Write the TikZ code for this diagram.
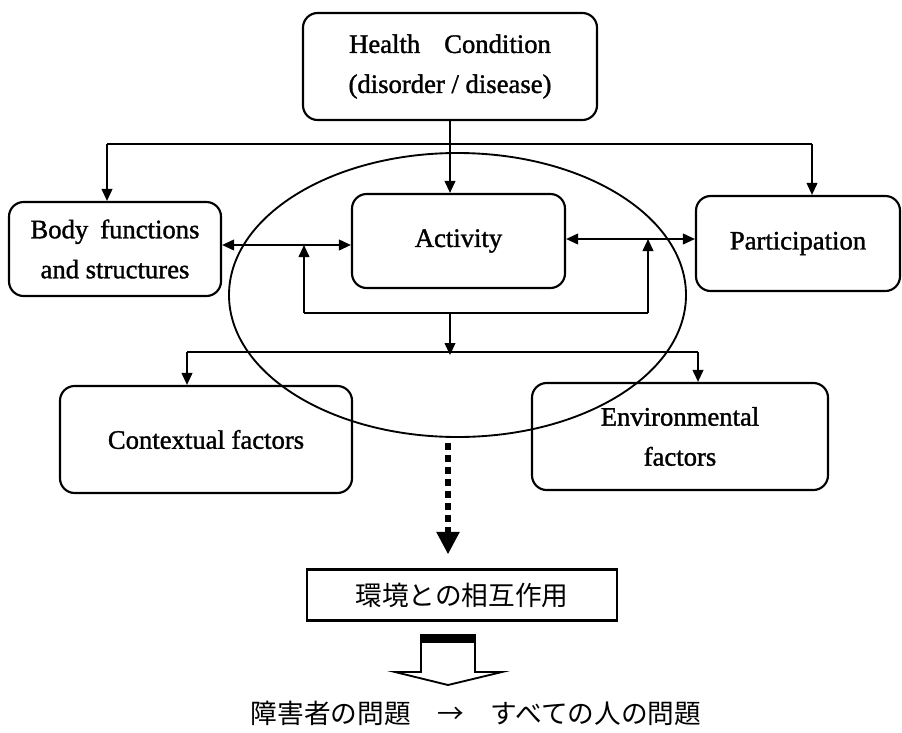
\documentclass[tikz,border=0pt]{standalone}
\usepackage{fontspec}
\setmainfont{Liberation Serif}[FakeBold=1.3]
\newfontfamily\jp{Noto Sans CJK JP}
\usetikzlibrary{arrows.meta}
\begin{document}
\begin{tikzpicture}[x=0.75pt,y=-0.75pt,
  box/.style={draw, line width=1.6pt, rounded corners=11pt, align=center, inner sep=0pt,
    font=\fontsize{20}{30}\selectfont},
  conn/.style={line width=1.4pt},
  arr/.style={conn, -{Triangle[length=9pt,width=8pt]}},
  darr/.style={conn, {Triangle[length=9pt,width=8pt]}-{Triangle[length=9pt,width=8pt]}},
  dotarr/.style={line width=5pt, dash pattern=on 5.25pt off 3.75pt, -{Triangle[length=17pt,width=16.5pt]}},
  jpbox/.style={draw, line width=1.6pt, inner sep=0pt, font=\jp\fontsize{20}{24}\selectfont},
  jptext/.style={inner sep=0pt, font=\jp\fontsize{20}{24}\selectfont}
]
\useasboundingbox (0,0) rectangle (902,732);
\fill[white] (0,0) rectangle (902,732);

% ellipse
\draw[line width=1.4pt] (457.5,295) ellipse [x radius=228.5, y radius=142];

% nodes
\node[box, minimum width=220.5pt, minimum height=80.25pt] (health) at (450,66.5)
  {Health\hspace{0.9em}Condition\\(disorder / disease)};
\node[box, minimum width=159pt, minimum height=70.5pt] (body) at (115,249)
  {Body\hspace{0.45em}functions\\and structures};
\node[box, minimum width=159.75pt, minimum height=70.5pt] (act) at (458.5,241) {Activity};
\node[box, minimum width=153pt, minimum height=71.25pt] (part) at (798,243.5) {Participation};
\node[box, minimum width=219pt, minimum height=80.25pt] (ctx) at (206,439.5) {Contextual factors};
\node[box, minimum width=222pt, minimum height=80.25pt] (env) at (680,436.5) {Environmental\\factors};
\node[jpbox, minimum width=232.5pt, minimum height=38.25pt] (inter) at (462,595) {環境との相互作用};
\node[jptext] (bottom) at (476,713) {障害者の問題　→　すべての人の問題};

% coordinates
\coordinate (tl) at (107,144);
\coordinate (tr) at (812,144);
\coordinate (y1) at (0,245);
\coordinate (y2) at (0,239);
\coordinate (ul) at (304,313);
\coordinate (ur) at (648,313);
\coordinate (cm) at (450,313);
\coordinate (cl) at (450,355);
\coordinate (ll) at (187,352);
\coordinate (lr) at (698,352);
\coordinate (ds) at (448,443);

% connectors
\draw[arr] (health.south) -- (health.south |- act.north);
\draw[conn] (tl) -- (tr);
\draw[arr] (tl) -- (tl |- body.north);
\draw[arr] (tr) -- (tr |- part.north);
\draw[darr] (body.east |- y1) -- (act.west |- y1);
\draw[darr] (act.east |- y2) -- (part.west |- y2);
\draw[conn] (ul) -- (ur);
\draw[arr] (ul) -- (ul |- y1);
\draw[arr] (ur) -- (ur |- y2);
\draw[arr] (cm) -- (cl);
\draw[conn] (ll) -- (lr);
\draw[arr] (ll) -- (ll |- ctx.north);
\draw[arr] (lr) -- (lr |- env.north);
\draw[dotarr, shorten >=10.5pt] (ds) -- (ds |- inter.north);

% block arrow
\fill[black] (421,635) rectangle (475,643);
\draw[line width=1.4pt, line join=miter] (421,635) -- (475,635) -- (475,672) -- (502,672) -- (448,685)
  -- (395,672) -- (421,672) -- cycle;
\end{tikzpicture}
\end{document}
